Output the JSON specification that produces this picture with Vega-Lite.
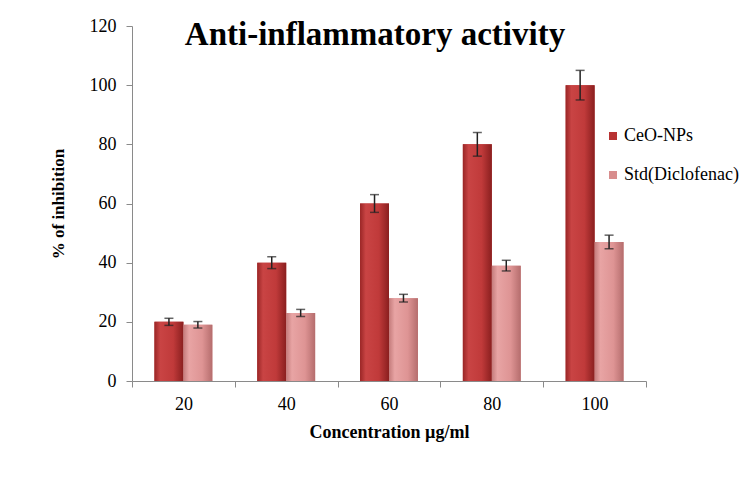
{
  "$schema": "https://vega.github.io/schema/vega-lite/v6.json",
  "width": 514,
  "height": 355,
  "autosize": "none",
  "padding": {"left": 132, "top": 26, "right": 104, "bottom": 99},
  "background": "white",
  "config": {
    "view": {"stroke": null},
    "font": "Liberation Serif",
    "axis": {"grid": false, "domainColor": "#8a8a8a", "tickColor": "#8a8a8a", "labelColor": "#000", "titleColor": "#000", "labelFont": "Liberation Serif", "titleFont": "Liberation Serif"},
    "legend": {"labelFont": "Liberation Serif"}
  },
  "title": {
    "text": "Anti-inflammatory activity",
    "font": "Liberation Serif",
    "fontSize": 33,
    "fontWeight": "bold",
    "color": "#000",
    "anchor": "middle",
    "frame": "group",
    "baseline": "middle",
    "offset": 0,
    "dy": 51,
    "dx": -14
  },
  "data": {
    "values": [
      {"conc": "20", "series": "CeO-NPs", "value": 20, "lo": 18.8, "hi": 21.2},
      {"conc": "40", "series": "CeO-NPs", "value": 40, "lo": 38, "hi": 42},
      {"conc": "60", "series": "CeO-NPs", "value": 60, "lo": 57, "hi": 63},
      {"conc": "80", "series": "CeO-NPs", "value": 80, "lo": 76, "hi": 84},
      {"conc": "100", "series": "CeO-NPs", "value": 100, "lo": 95, "hi": 105},
      {"conc": "20", "series": "Std(Diclofenac)", "value": 19, "lo": 17.9, "hi": 20.1},
      {"conc": "40", "series": "Std(Diclofenac)", "value": 23, "lo": 21.8, "hi": 24.2},
      {"conc": "60", "series": "Std(Diclofenac)", "value": 28, "lo": 26.7, "hi": 29.3},
      {"conc": "80", "series": "Std(Diclofenac)", "value": 39, "lo": 37.2, "hi": 40.8},
      {"conc": "100", "series": "Std(Diclofenac)", "value": 47, "lo": 44.7, "hi": 49.3}
    ]
  },
  "encoding": {
    "x": {
      "field": "conc",
      "type": "nominal",
      "sort": ["20", "40", "60", "80", "100"],
      "scale": {"paddingInner": 0, "paddingOuter": 0},
      "axis": {
        "title": "Concentration µg/ml",
        "titleFontSize": 18,
        "titleFontWeight": "bold",
        "titlePadding": 10,
        "labelFontSize": 18,
        "labelAngle": 0,
        "labelPadding": 8,
        "tickBand": "extent",
        "tickSize": 6
      }
    },
    "xOffset": {
      "field": "series",
      "type": "nominal",
      "scale": {"paddingInner": 0, "paddingOuter": 0.776}
    }
  },
  "layer": [
    {
      "mark": {"type": "bar"},
      "encoding": {
        "y": {
          "field": "value",
          "type": "quantitative",
          "scale": {"domain": [0, 120]},
          "axis": {
            "title": "% of inhibition",
            "titleFontSize": 17,
            "titleFontWeight": "bold",
            "titlePadding": 22,
            "labelFontSize": 18,
            "labelPadding": 10,
            "tickSize": 6,
            "values": [0, 20, 40, 60, 80, 100, 120]
          }
        },
        "color": {
          "field": "series",
          "type": "nominal",
          "scale": {"domain": ["CeO-NPs", "Std(Diclofenac)"], "range": ["#b83232", "#d88d8d"]},
          "legend": {
            "title": null,
            "orient": "none",
            "legendX": 472,
            "legendY": 101,
            "padding": 0,
            "symbolType": "square",
            "symbolSize": 64,
            "labelFontSize": 18,
            "labelFont": "Liberation Serif",
            "labelColor": "#000",
            "labelOffset": 2,
            "rowPadding": 21
          }
        }
      }
    },
    {
      "mark": {"type": "bar"},
      "encoding": {
        "y": {"field": "value", "type": "quantitative"},
        "fill": {
          "condition": {
            "test": "datum.series === 'CeO-NPs'",
            "value": {"gradient": "linear", "x1": 0, "x2": 1, "y1": 0, "y2": 0, "stops": [
              {"offset": 0, "color": "#9a2626"},
              {"offset": 0.2, "color": "#c94444"},
              {"offset": 0.65, "color": "#c03a3a"},
              {"offset": 1, "color": "#8a1f1f"}
            ]}
          },
          "value": {"gradient": "linear", "x1": 0, "x2": 1, "y1": 0, "y2": 0, "stops": [
            {"offset": 0, "color": "#c47b7b"},
            {"offset": 0.2, "color": "#e8a4a4"},
            {"offset": 0.65, "color": "#de9494"},
            {"offset": 1, "color": "#b56d6d"}
          ]}
        }
      }
    },
    {
      "mark": {"type": "rule", "color": "#222", "strokeWidth": 1.5},
      "encoding": {
        "y": {"field": "lo", "type": "quantitative"},
        "y2": {"field": "hi"}
      }
    },
    {
      "mark": {"type": "tick", "color": "#222", "thickness": 1.5, "size": 9},
      "encoding": {
        "y": {"field": "hi", "type": "quantitative"}
      }
    },
    {
      "mark": {"type": "tick", "color": "#222", "thickness": 1.5, "size": 9},
      "encoding": {
        "y": {"field": "lo", "type": "quantitative"}
      }
    }
  ]
}
